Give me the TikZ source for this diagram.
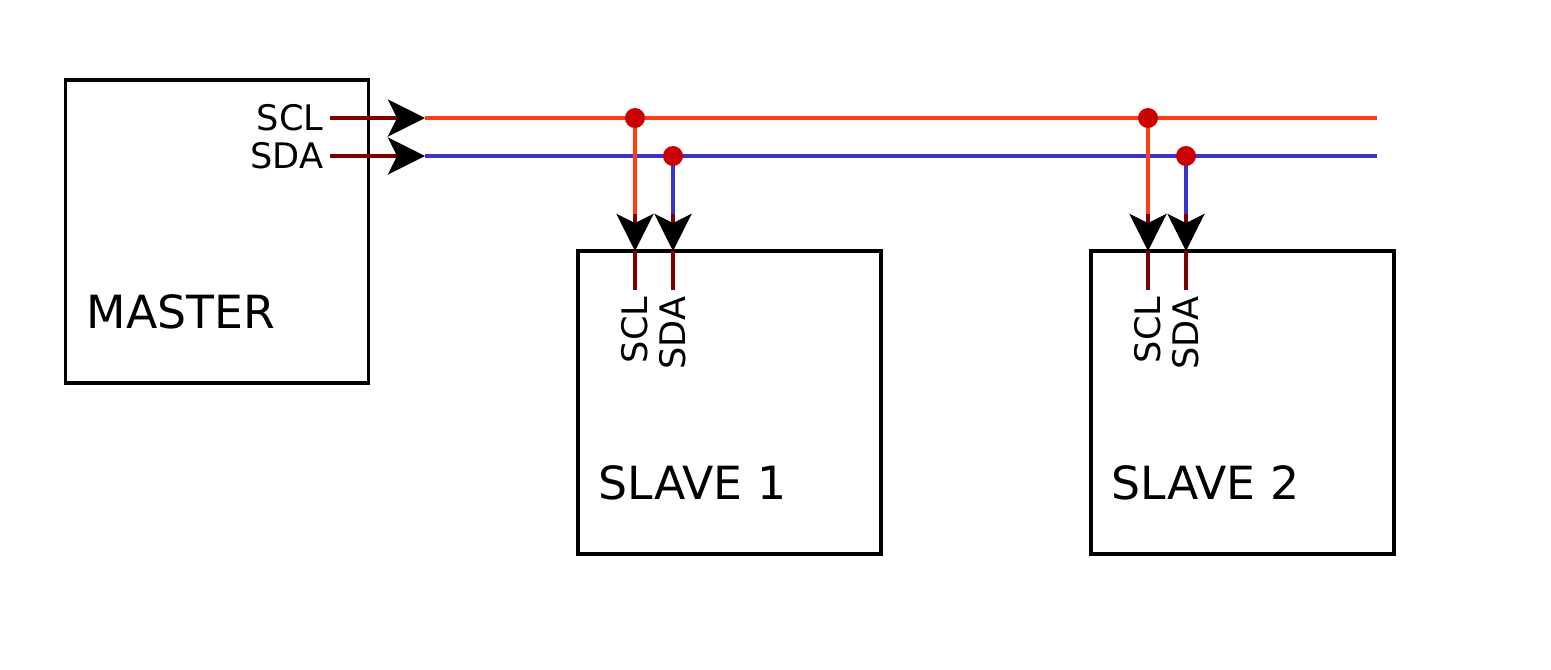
\documentclass[tikz,border=0pt]{standalone}
\usepackage{fontspec}
\setmainfont{DejaVu Sans}
\usetikzlibrary{arrows.meta}
\definecolor{busred}{HTML}{FF3D0F}
\definecolor{busblue}{HTML}{3A33CC}
\definecolor{pinred}{HTML}{800000}
\definecolor{dotred}{HTML}{CC0000}
\tikzset{
  box/.style={draw=black, line width=1pt, minimum width=3.03cm, minimum height=3.03cm, inner sep=0pt},
  boxlabel/.style={anchor=base west, font=\fontsize{13}{15}\selectfont, inner sep=0pt},
  pinlabel/.style={font=\fontsize{10}{12}\selectfont, inner sep=0pt},
  pin/.style={draw=pinred, line width=1pt},
  tip/.style={-{Stealth[length=0.37cm, width=0.37cm, inset=0.09cm, black]}},
  sclbus/.style={draw=busred, line width=1pt},
  sdabus/.style={draw=busblue, line width=1pt},
  junction/.style={circle, fill=dotred, minimum size=0.2cm, inner sep=0pt},
}
\begin{document}
\begin{tikzpicture}[x=0.01cm, y=-0.01cm]
\useasboundingbox (0,0) rectangle (1551,669);
% boxes
\node[box] (master) at (217,231.5) {};
\node[box] (slave1) at (729.5,402.5) {};
\node[box] (slave2) at (1242.5,402.5) {};
\node[boxlabel] (mlab) at (86,328) {MASTER};
\node[boxlabel] (s1lab) at (598,499) {SLAVE 1};
\node[boxlabel] (s2lab) at (1111,499) {SLAVE 2};
% master pins
\coordinate (mscl) at (330,118);
\coordinate (msda) at (330,156);
\coordinate (sclstart) at (425,118);
\coordinate (sdastart) at (425,156);
\coordinate (sclend) at (1377,118);
\coordinate (sdaend) at (1377,156);
\node[pinlabel, anchor=east] (msclt) at (324,118) {SCL};
\node[pinlabel, anchor=east] (msdat) at (324,156) {SDA};
\draw[sclbus] (sclstart) -- (sclend);
\draw[sdabus] (sdastart) -- (sdaend);
\draw[pin, tip] (mscl) -- (sclstart);
\draw[pin, tip] (msda) -- (sdastart);
% slave taps
\foreach \n/\xa/\xb in {1/635/673, 2/1148/1186}{
  \coordinate (j\n c) at (\xa,118);
  \coordinate (j\n d) at (\xb,156);
  \coordinate (k\n c) at (\xa,214);
  \coordinate (k\n d) at (\xb,214);
  \coordinate (t\n c) at (\xa,251);
  \coordinate (t\n d) at (\xb,251);
  \coordinate (e\n c) at (\xa,290);
  \coordinate (e\n d) at (\xb,290);
  \draw[sclbus] (j\n c) -- (k\n c);
  \draw[sdabus] (j\n d) -- (k\n d);
  \draw[pin] (t\n c) -- (e\n c);
  \draw[pin] (t\n d) -- (e\n d);
  \draw[pin, tip] (k\n c) -- (t\n c);
  \draw[pin, tip] (k\n d) -- (t\n d);
  \node[junction] (dc\n) at (j\n c) {};
  \node[junction] (dd\n) at (j\n d) {};
  \node[pinlabel, rotate=90, anchor=east] (lc\n) at (\xa,296) {SCL};
  \node[pinlabel, rotate=90, anchor=east] (ld\n) at (\xb,296) {SDA};
}
\end{tikzpicture}
\end{document}
